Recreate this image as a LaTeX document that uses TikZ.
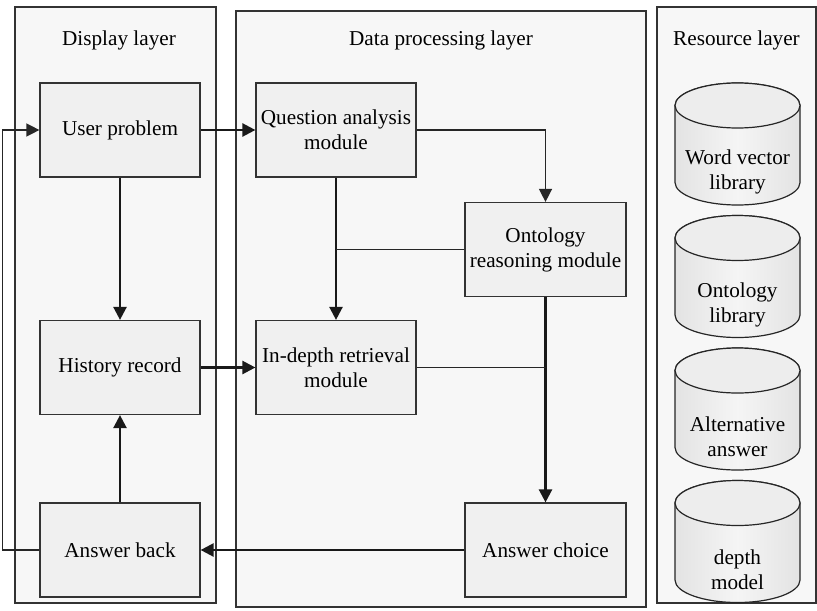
\documentclass[tikz,border=0pt]{standalone}
\usepackage{fontspec}
\setmainfont{Liberation Serif}
\usetikzlibrary{arrows.meta}

\begin{document}
\begin{tikzpicture}[x=0.5pt, y=0.5pt, >={Triangle[length=6.5pt,width=6.5pt]},
    font=\fontsize{10.6}{12.5}\selectfont,
    layer/.style={draw=black!80, fill=black!3, line width=0.6pt},
    box/.style={draw=black!80, fill=black!6, line width=0.6pt, minimum width=80pt, minimum height=47pt, align=center, inner sep=2pt},
    store/.style={draw=black!85, line width=0.6pt, left color=black!11, right color=black!11, middle color=black!4},
    flow/.style={->, line width=1.2pt, black!90},
    link/.style={line width=0.7pt, black!85}]
  \useasboundingbox (0,0) rectangle (817,-610);

  % the three layers
  \filldraw[layer] (15,-7) rectangle (216,-603);
  \filldraw[layer] (236,-11) rectangle (646,-607);
  \filldraw[layer] (657,-7) rectangle (816,-603);
  \node[anchor=base] (display) at (119,-46) {Display layer};
  \node[anchor=base] (processing) at (441,-46) {Data processing layer};
  \node[anchor=base] (resource) at (736.5,-46) {Resource layer};

  \node[box] (user) at (120,-130) {User problem};
  \node[box] (history) at (120,-367.5) {History record};
  \node[box] (answerback) at (120,-550) {Answer back};
  \node[box] (question) at (336,-130) {Question analysis\\module};
  \node[box, minimum width=80.5pt] (ontology) at (545.5,-249.5) {Ontology\\reasoning module};
  \node[box] (indepth) at (336,-367.5) {In-depth retrieval\\module};
  \node[box, minimum width=80.5pt] (choice) at (545.5,-550) {Answer choice};

  % databases
  \foreach \cy/\name/\txt in {-83/wordvec/{Word vector\\library}, -215.5/ontolib/{Ontology\\library},
      -348/altans/{Alternative\\answer}, -480.5/depthmod/{depth\\model}} {
    \path[store] (675,\cy-22.5) -- (675,\cy-99.5)
      arc[start angle=180, end angle=360, x radius=62.5, y radius=22.5]
      -- (800,\cy-22.5) arc[start angle=0, end angle=180, x radius=62.5, y radius=22.5] -- cycle;
    \filldraw[draw=black!85, fill=black!7, line width=0.6pt] (737.5,\cy-22.5) ellipse [x radius=62.5, y radius=22.5];
    \node[align=center] (\name) at (737.5,\cy-89) {\txt};
  }

  \draw[flow] (user.east) -- (question.west);
  \draw[flow] (user.south) -- (history.north);
  \draw[flow] (answerback.north) -- (history.south);
  \draw[flow] (history.east) -- (indepth.west);
  \draw[flow] (question.south) -- (indepth.north);
  \draw[link, ->] (question.east) -| (ontology.north);
  \draw[link] (ontology.west) -- (ontology.west -| question.south);
  \draw[flow] (ontology.south) -- (choice.north);
  \draw[link] (indepth.east) -- (indepth.east -| ontology.south);
  \draw[flow] (choice.west) -- (answerback.east);
  \draw[link, ->] (answerback.west) -- ++(-37,0) |- (user.west);
\end{tikzpicture}
\end{document}
